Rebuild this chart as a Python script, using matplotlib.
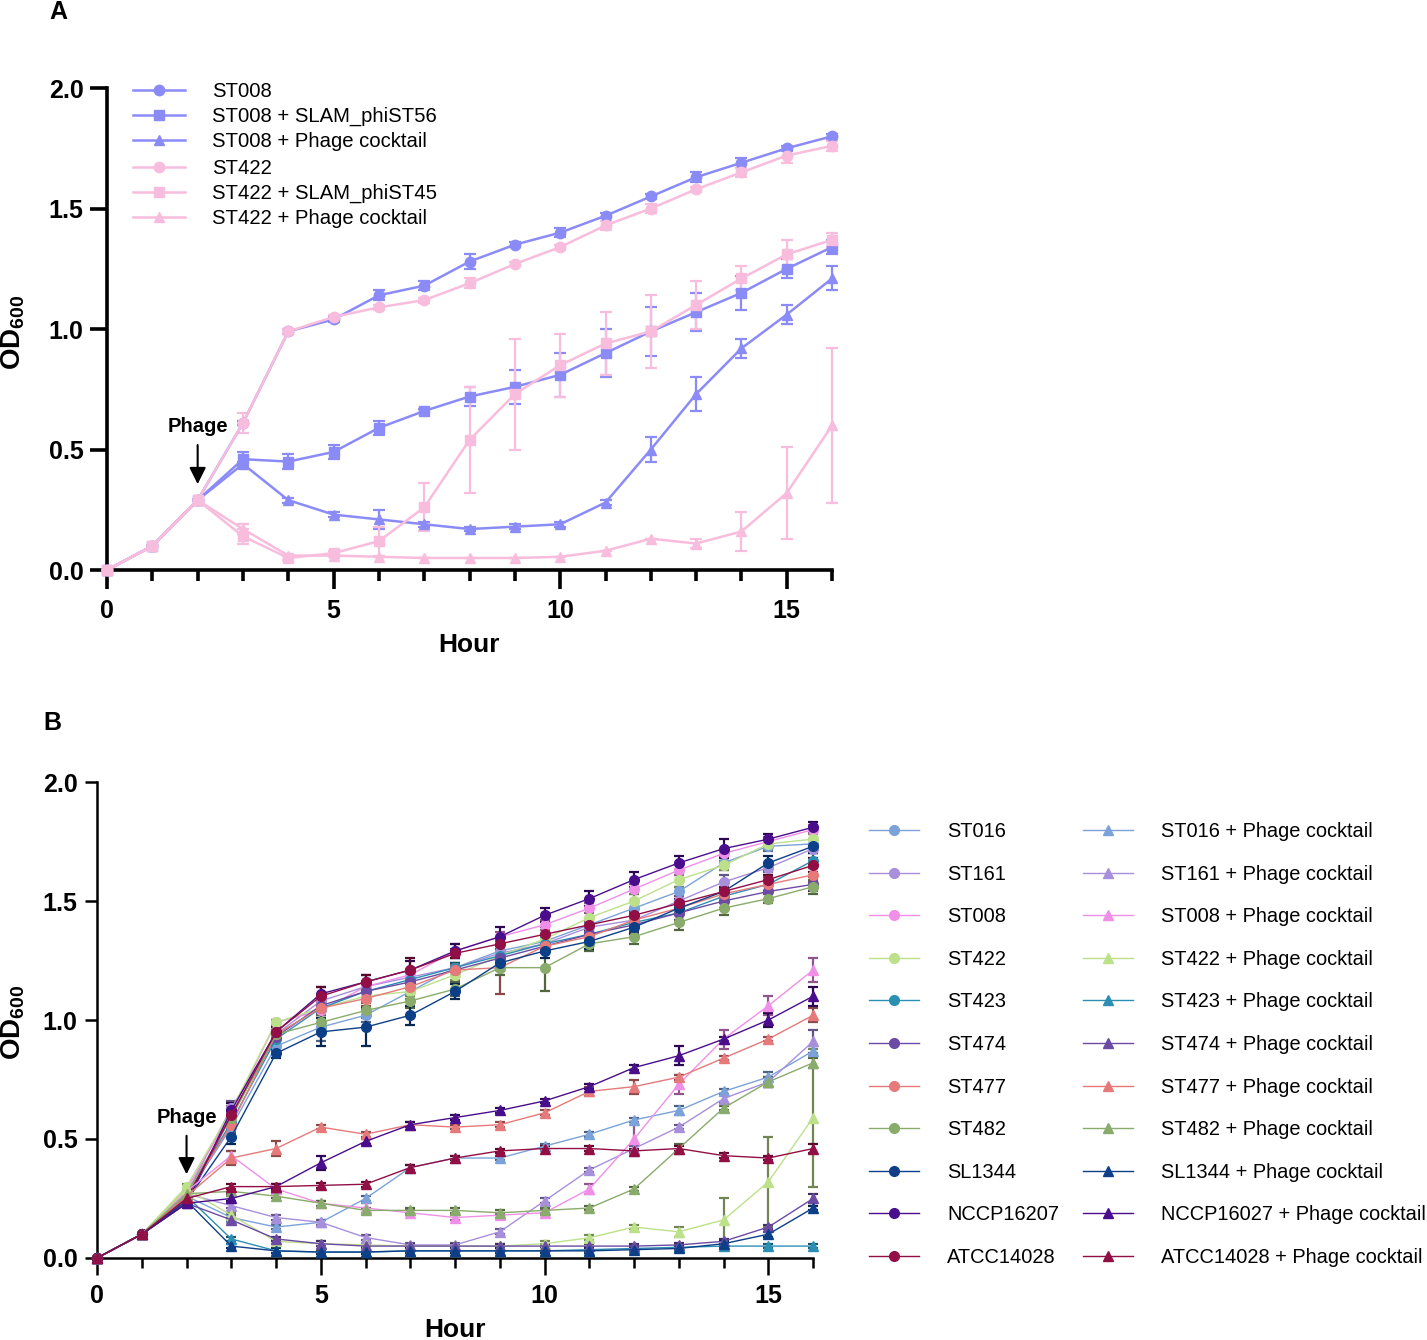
import numpy as np
import matplotlib.pyplot as plt
import matplotlib.colors as mcolors

plt.rcParams['font.family'] = ['Liberation Sans', 'DejaVu Sans']
plt.rcParams['mathtext.fontset'] = 'custom'
plt.rcParams['mathtext.rm'] = 'Liberation Sans'
plt.rcParams['mathtext.bf'] = 'Liberation Sans:bold'

hours = list(range(17))

# ---------------- panel A data ----------------
a_labels = ['ST008', 'ST008 + SLAM_phiST56', 'ST008 + Phage cocktail',
            'ST422', 'ST422 + SLAM_phiST45', 'ST422 + Phage cocktail']
a_st008 = [0, 0.10, 0.29, 0.61, 0.99, 1.04, 1.14, 1.18, 1.28, 1.35, 1.40, 1.47, 1.55, 1.63, 1.69, 1.75, 1.80]
a_st008_err = [0, 0, 0, 0.01, 0.01, 0.01, 0.02, 0.02, 0.03, 0.01, 0.02, 0.01, 0.01, 0.02, 0.02, 0.01, 0.01]
a_st008_slam = [0, 0.10, 0.29, 0.46, 0.45, 0.49, 0.59, 0.66, 0.72, 0.76, 0.81, 0.90, 0.99, 1.07, 1.15, 1.25, 1.34]
a_st008_slam_err = [0, 0, 0, 0.03, 0.03, 0.03, 0.03, 0.01, 0.04, 0.07, 0.09, 0.10, 0.10, 0.08, 0.07, 0.04, 0.03]
a_st008_pc = [0, 0.10, 0.29, 0.44, 0.29, 0.23, 0.21, 0.19, 0.17, 0.18, 0.19, 0.28, 0.50, 0.73, 0.92, 1.06, 1.21]
a_st008_pc_err = [0, 0, 0, 0.01, 0.01, 0.01, 0.04, 0.01, 0.01, 0.01, 0.01, 0.01, 0.05, 0.07, 0.04, 0.04, 0.05]
a_st422 = [0, 0.10, 0.29, 0.61, 0.99, 1.05, 1.09, 1.12, 1.19, 1.27, 1.34, 1.43, 1.50, 1.58, 1.65, 1.72, 1.76]
a_st422_err = [0, 0, 0, 0.04, 0.01, 0.01, 0.01, 0.01, 0.02, 0.01, 0.01, 0.02, 0.02, 0.01, 0.02, 0.03, 0.02]
a_st422_slam = [0, 0.10, 0.29, 0.14, 0.05, 0.07, 0.12, 0.26, 0.54, 0.73, 0.85, 0.94, 0.99, 1.10, 1.21, 1.31, 1.37]
a_st422_slam_err = [0, 0, 0, 0.03, 0.01, 0.01, 0.06, 0.10, 0.22, 0.23, 0.13, 0.13, 0.15, 0.10, 0.05, 0.06, 0.03]
a_st422_pc = [0, 0.10, 0.29, 0.17, 0.06, 0.06, 0.055, 0.05, 0.05, 0.05, 0.055, 0.08, 0.13, 0.11, 0.16, 0.32, 0.60]
a_st422_pc_err = [0, 0, 0, 0.02, 0, 0, 0, 0, 0, 0, 0, 0, 0, 0.02, 0.08, 0.19, 0.32]

# ---------------- panel B data ----------------
b_labels = ['ST016', 'ST161', 'ST008', 'ST422', 'ST423', 'ST474', 'ST477', 'ST482',
            'SL1344', 'NCCP16207', 'ATCC14028']
b_pc_labels = ['ST016 + Phage cocktail', 'ST161 + Phage cocktail', 'ST008 + Phage cocktail',
               'ST422 + Phage cocktail', 'ST423 + Phage cocktail', 'ST474 + Phage cocktail',
               'ST477 + Phage cocktail', 'ST482 + Phage cocktail', 'SL1344 + Phage cocktail',
               'NCCP16027 + Phage cocktail', 'ATCC14028 + Phage cocktail']
b_colors = ['#7ba3d9', '#a78fdc', '#ef8fe8', '#bde08a', '#2b8fb3', '#6b4ba3',
            '#e67a7a', '#89ab6b', '#0d3f88', '#4a0e8c', '#920f46']

b_st016 = [0, 0.10, 0.26, 0.55, 0.89, 0.97, 1.02, 1.12, 1.22, 1.29, 1.33, 1.40, 1.47, 1.54, 1.66, 1.73, 1.74]
b_st161 = [0, 0.10, 0.27, 0.63, 0.94, 1.08, 1.14, 1.18, 1.22, 1.28, 1.32, 1.39, 1.42, 1.50, 1.58, 1.64, 1.72]
b_st008 = [0, 0.10, 0.29, 0.61, 0.99, 1.04, 1.14, 1.19, 1.29, 1.35, 1.40, 1.47, 1.55, 1.63, 1.70, 1.75, 1.80]
b_st422 = [0, 0.10, 0.30, 0.62, 0.99, 1.05, 1.10, 1.12, 1.19, 1.27, 1.34, 1.43, 1.50, 1.59, 1.65, 1.74, 1.76]
b_st423 = [0, 0.10, 0.26, 0.57, 0.92, 1.05, 1.12, 1.17, 1.22, 1.27, 1.32, 1.36, 1.41, 1.45, 1.52, 1.57, 1.67]
b_st474 = [0, 0.10, 0.23, 0.60, 0.93, 1.06, 1.12, 1.16, 1.21, 1.26, 1.31, 1.36, 1.40, 1.45, 1.50, 1.54, 1.57]
b_st477 = [0, 0.10, 0.26, 0.56, 0.94, 1.05, 1.09, 1.14, 1.21, 1.22, 1.31, 1.35, 1.42, 1.47, 1.53, 1.57, 1.61]
b_st482 = [0, 0.10, 0.27, 0.59, 0.94, 0.99, 1.04, 1.08, 1.13, 1.22, 1.22, 1.32, 1.35, 1.41, 1.47, 1.51, 1.56]
b_sl1344 = [0, 0.10, 0.24, 0.51, 0.86, 0.95, 0.97, 1.02, 1.12, 1.24, 1.29, 1.33, 1.39, 1.47, 1.54, 1.66, 1.73]
b_nccp16207 = [0, 0.10, 0.23, 0.62, 0.95, 1.11, 1.16, 1.21, 1.29, 1.35, 1.44, 1.51, 1.59, 1.66, 1.72, 1.76, 1.81]
b_atcc14028 = [0, 0.10, 0.25, 0.60, 0.95, 1.10, 1.16, 1.21, 1.28, 1.32, 1.36, 1.40, 1.44, 1.49, 1.54, 1.59, 1.65]

b_st016_err = [0, 0, 0.01, 0.03, 0.02, 0.06, 0.03, 0.03, 0.02, 0.03, 0.02, 0.03, 0.03, 0.02, 0.03, 0.02, 0.02]
b_st161_err = [0, 0, 0.01, 0.03, 0.02, 0.03, 0.02, 0.02, 0.02, 0.02, 0.02, 0.02, 0.02, 0.02, 0.03, 0.02, 0.02]
b_st008_err = [0, 0, 0.01, 0.03, 0.01, 0.02, 0.02, 0.02, 0.03, 0.02, 0.02, 0.02, 0.02, 0.02, 0.02, 0.02, 0.02]
b_st422_err = [0, 0, 0.01, 0.03, 0.01, 0.02, 0.02, 0.02, 0.02, 0.02, 0.02, 0.04, 0.03, 0.03, 0.02, 0.02, 0.02]
b_st423_err = [0, 0, 0.01, 0.03, 0.02, 0.03, 0.03, 0.04, 0.02, 0.02, 0.02, 0.03, 0.03, 0.03, 0.03, 0.03, 0.03]
b_st474_err = [0, 0, 0.01, 0.03, 0.02, 0.03, 0.03, 0.03, 0.02, 0.02, 0.03, 0.03, 0.03, 0.03, 0.03, 0.03, 0.03]
b_st477_err = [0, 0, 0.01, 0.03, 0.02, 0.03, 0.03, 0.03, 0.02, 0.11, 0.03, 0.03, 0.03, 0.03, 0.03, 0.03, 0.03]
b_st482_err = [0, 0, 0.01, 0.03, 0.02, 0.03, 0.03, 0.03, 0.03, 0.03, 0.10, 0.03, 0.03, 0.03, 0.03, 0.02, 0.03]
b_sl1344_err = [0, 0, 0.01, 0.03, 0.02, 0.06, 0.08, 0.04, 0.03, 0.03, 0.03, 0.03, 0.03, 0.03, 0.04, 0.03, 0.03]
b_nccp16207_err = [0, 0, 0.01, 0.03, 0.02, 0.03, 0.03, 0.04, 0.03, 0.04, 0.03, 0.03, 0.03, 0.03, 0.04, 0.02, 0.02]
b_atcc14028_err = [0, 0, 0.01, 0.03, 0.02, 0.04, 0.03, 0.05, 0.02, 0.02, 0.03, 0.02, 0.02, 0.02, 0.02, 0.02, 0.03]

b_st016_pc = [0, 0.10, 0.26, 0.17, 0.13, 0.15, 0.25, 0.38, 0.42, 0.42, 0.47, 0.52, 0.58, 0.62, 0.70, 0.76, 0.87]
b_st161_pc = [0, 0.10, 0.27, 0.22, 0.17, 0.15, 0.086, 0.055, 0.055, 0.11, 0.24, 0.37, 0.46, 0.55, 0.67, 0.74, 0.91]
b_st008_pc = [0, 0.10, 0.28, 0.43, 0.29, 0.23, 0.21, 0.19, 0.17, 0.18, 0.19, 0.29, 0.50, 0.73, 0.92, 1.06, 1.21]
b_st422_pc = [0, 0.10, 0.29, 0.18, 0.07, 0.06, 0.055, 0.05, 0.05, 0.05, 0.06, 0.085, 0.13, 0.11, 0.16, 0.32, 0.59]
b_st423_pc = [0, 0.10, 0.26, 0.08, 0.03, 0.025, 0.025, 0.03, 0.03, 0.03, 0.03, 0.035, 0.04, 0.045, 0.05, 0.05, 0.05]
b_st474_pc = [0, 0.10, 0.23, 0.16, 0.08, 0.06, 0.05, 0.05, 0.05, 0.05, 0.05, 0.05, 0.05, 0.055, 0.07, 0.13, 0.25]
b_st477_pc = [0, 0.10, 0.26, 0.42, 0.46, 0.55, 0.52, 0.56, 0.55, 0.56, 0.61, 0.70, 0.72, 0.76, 0.84, 0.92, 1.02]
b_st482_pc = [0, 0.10, 0.27, 0.28, 0.26, 0.23, 0.20, 0.20, 0.20, 0.19, 0.20, 0.21, 0.29, 0.46, 0.63, 0.74, 0.82]
b_sl1344_pc = [0, 0.10, 0.24, 0.05, 0.03, 0.025, 0.025, 0.03, 0.03, 0.03, 0.03, 0.03, 0.035, 0.04, 0.06, 0.10, 0.21]
b_nccp16027_pc = [0, 0.10, 0.23, 0.25, 0.30, 0.40, 0.49, 0.56, 0.59, 0.62, 0.66, 0.72, 0.80, 0.85, 0.92, 1.00, 1.10]
b_atcc14028_pc = [0, 0.10, 0.25, 0.30, 0.30, 0.305, 0.31, 0.38, 0.42, 0.45, 0.46, 0.46, 0.45, 0.46, 0.43, 0.42, 0.46]

b_st016_pc_err = [0, 0, 0, 0.01, 0.01, 0.01, 0.01, 0.01, 0.01, 0.01, 0.01, 0.01, 0.01, 0.02, 0.01, 0.02, 0.02]
b_st161_pc_err = [0, 0, 0, 0.01, 0.01, 0.01, 0.01, 0.01, 0.01, 0.01, 0.01, 0.01, 0.01, 0.01, 0.02, 0.02, 0.05]
b_st008_pc_err = [0, 0, 0, 0.02, 0.01, 0.01, 0.02, 0.01, 0.01, 0.01, 0.01, 0.02, 0.07, 0.04, 0.04, 0.04, 0.05]
b_st422_pc_err = [0, 0, 0, 0.01, 0.01, 0.01, 0.01, 0.01, 0.01, 0.01, 0.01, 0.01, 0.01, 0.02, 0.09, 0.19, 0.29]
b_st423_pc_err = [0, 0, 0, 0.01, 0.01, 0.01, 0.01, 0.01, 0.01, 0.01, 0.01, 0.01, 0.01, 0.01, 0.01, 0.01, 0.01]
b_st474_pc_err = [0, 0, 0, 0.01, 0.01, 0.01, 0.01, 0.01, 0.01, 0.01, 0.01, 0.01, 0.01, 0.01, 0.01, 0.01, 0.02]
b_st477_pc_err = [0, 0, 0, 0.03, 0.03, 0.01, 0.01, 0.01, 0.01, 0.01, 0.01, 0.02, 0.03, 0.01, 0.01, 0.01, 0.03]
b_st482_pc_err = [0, 0, 0, 0.01, 0.01, 0.01, 0.01, 0.01, 0.01, 0.01, 0.01, 0.01, 0.01, 0.02, 0.01, 0.02, 0.02]
b_sl1344_pc_err = [0, 0, 0, 0.01, 0.01, 0.01, 0.01, 0.01, 0.01, 0.01, 0.01, 0.01, 0.01, 0.01, 0.01, 0.01, 0.01]
b_nccp16027_pc_err = [0, 0, 0, 0.01, 0.01, 0.03, 0.01, 0.01, 0.01, 0.01, 0.01, 0.01, 0.01, 0.04, 0.01, 0.03, 0.04]
b_atcc14028_pc_err = [0, 0, 0, 0.01, 0.01, 0.01, 0.01, 0.01, 0.01, 0.01, 0.01, 0.01, 0.01, 0.01, 0.01, 0.01, 0.02]

b_ctrl = [b_st016, b_st161, b_st008, b_st422, b_st423, b_st474, b_st477, b_st482,
          b_sl1344, b_nccp16207, b_atcc14028]
b_ctrl_err = [b_st016_err, b_st161_err, b_st008_err, b_st422_err, b_st423_err, b_st474_err,
              b_st477_err, b_st482_err, b_sl1344_err, b_nccp16207_err, b_atcc14028_err]
b_pc = [b_st016_pc, b_st161_pc, b_st008_pc, b_st422_pc, b_st423_pc, b_st474_pc, b_st477_pc,
        b_st482_pc, b_sl1344_pc, b_nccp16027_pc, b_atcc14028_pc]
b_pc_err = [b_st016_pc_err, b_st161_pc_err, b_st008_pc_err, b_st422_pc_err, b_st423_pc_err,
            b_st474_pc_err, b_st477_pc_err, b_st482_pc_err, b_sl1344_pc_err,
            b_nccp16027_pc_err, b_atcc14028_pc_err]

blue = '#8b8bf8'
pink = '#f8bcdd'


def darker(c, f=0.6):
    r, g, b = mcolors.to_rgb(c)
    return (r * f, g * f, b * f)


def style_axes(ax, lw, ylen, xmaj, xmin, fs):
    for s in ['top', 'right']:
        ax.spines[s].set_visible(False)
    for s in ['left', 'bottom']:
        ax.spines[s].set_linewidth(lw)
    ax.set_xlim(0, 16)
    ax.set_ylim(0, 2)
    ax.set_xticks([0, 5, 10, 15])
    ax.set_xticks(hours, minor=True)
    ax.set_yticks([0, 0.5, 1.0, 1.5, 2.0])
    ax.set_yticklabels(['0.0', '0.5', '1.0', '1.5', '2.0'])
    ax.tick_params(axis='x', which='major', length=xmaj, width=lw, labelsize=fs, pad=7)
    ax.tick_params(axis='x', which='minor', length=xmin, width=lw)
    ax.tick_params(axis='y', length=ylen, width=lw, labelsize=fs, pad=5)
    for lab in ax.get_xticklabels() + ax.get_yticklabels():
        lab.set_fontweight('bold')


fig = plt.figure(figsize=(14.27, 13.40), dpi=100)

# ---------------- panel A ----------------
axA = fig.add_axes([0.0750, 0.5746, 0.5081, 0.3597])
a_series = [(a_st008, a_st008_err, blue, 'o'), (a_st008_slam, a_st008_slam_err, blue, 's'),
            (a_st008_pc, a_st008_pc_err, blue, '^'), (a_st422, a_st422_err, pink, 'o'),
            (a_st422_slam, a_st422_slam_err, pink, 's'), (a_st422_pc, a_st422_pc_err, pink, '^')]
handlesA = []
for (y, e, c, m), lab in zip(a_series, a_labels):
    axA.errorbar(hours, y, yerr=e, fmt='none', ecolor=c, elinewidth=1.6, capsize=4,
                 capthick=1.6, clip_on=False, zorder=2)
    h, = axA.plot(hours, y, color=c, marker=m, markersize=7.5, lw=1.8, label=lab,
                  clip_on=False, zorder=3)
    handlesA.append(h)
style_axes(axA, 2.6, 12, 14, 8, 18)

leg_kw = dict(loc='upper left', bbox_transform=fig.transFigure, frameon=False, fontsize=14.6,
              borderpad=0, borderaxespad=0, handlelength=2.55, handletextpad=1.35, labelspacing=0.28)
leg1 = axA.legend(handles=handlesA[:3], bbox_to_anchor=(133 / 1427, 1 - 82 / 1340), **leg_kw)
axA.add_artist(leg1)
axA.legend(handles=handlesA[3:], bbox_to_anchor=(133 / 1427, 1 - 159 / 1340), **leg_kw)

axA.annotate('', xy=(2, 0.345), xytext=(2, 0.53),
             arrowprops=dict(arrowstyle='-|>', color='black', lw=1.5, mutation_scale=25))
axA.text(2, 0.595, 'Phage', ha='center', va='center', fontsize=14.5, fontweight='bold')

fig.text(469 / 1427, 1 - 645 / 1340, 'Hour', ha='center', va='center', fontsize=19, fontweight='bold')
fig.text(13 / 1427, 1 - 332 / 1340, r'OD$_{\mathbf{600}}$', ha='center', va='center',
         rotation=90, fontsize=20, fontweight='bold')
fig.text(58 / 1427, 1 - 12 / 1340, 'A', ha='center', va='center', fontsize=18, fontweight='bold')

# ---------------- panel B ----------------
axB = fig.add_axes([0.0680, 0.0612, 0.5018, 0.3552])
handles_ctrl = []
handles_pc = []
for y, e, c, lab in zip(b_ctrl, b_ctrl_err, b_colors, b_labels):
    axB.errorbar(hours, y, yerr=e, fmt='none', ecolor=darker(c), elinewidth=1.6, capsize=3.5,
                 capthick=1.6, clip_on=False, zorder=2)
    h, = axB.plot(hours, y, color=c, marker='o', markersize=7, lw=1.0, label=lab,
                  clip_on=False, zorder=3)
    handles_ctrl.append(h)
for y, e, c, lab in zip(b_pc, b_pc_err, b_colors, b_pc_labels):
    axB.errorbar(hours, y, yerr=e, fmt='none', ecolor=darker(c), elinewidth=1.6, capsize=3.5,
                 capthick=1.6, clip_on=False, zorder=2)
    h, = axB.plot(hours, y, color=c, marker='^', markersize=7, lw=1.0, label=lab,
                  clip_on=False, zorder=3)
    handles_pc.append(h)
style_axes(axB, 1.8, 9, 12, 7, 18)

fig.legend(handles=handles_ctrl + handles_pc, loc='upper left',
           bbox_to_anchor=(869 / 1427, 1 - 822 / 1340), ncol=2, frameon=False, fontsize=14.4,
           borderpad=0, borderaxespad=0, handlelength=2.5, handletextpad=1.4,
           labelspacing=1.18, columnspacing=1.2)

axB.annotate('', xy=(2, 0.34), xytext=(2, 0.525),
             arrowprops=dict(arrowstyle='-|>', color='black', lw=1.5, mutation_scale=25))
axB.text(2, 0.592, 'Phage', ha='center', va='center', fontsize=14.5, fontweight='bold')

fig.text(455 / 1427, 1 - 1330 / 1340, 'Hour', ha='center', va='center', fontsize=19, fontweight='bold')
fig.text(13 / 1427, 1 - 1022 / 1340, r'OD$_{\mathbf{600}}$', ha='center', va='center',
         rotation=90, fontsize=20, fontweight='bold')
fig.text(52 / 1427, 1 - 723 / 1340, 'B', ha='center', va='center', fontsize=18, fontweight='bold')

fig.savefig('out.png', dpi=100)
